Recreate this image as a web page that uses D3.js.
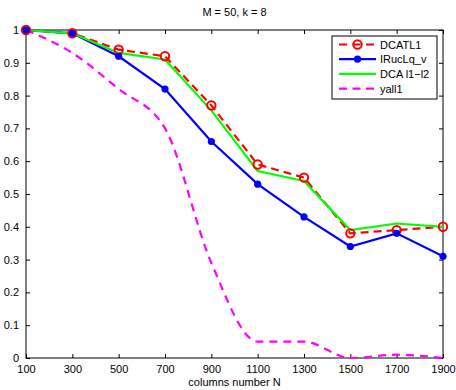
<!DOCTYPE html>
<html>
<head>
<meta charset="utf-8">
<script src="https://cdn.jsdelivr.net/npm/d3@7"></script>
<style>
  body { margin: 0; background: #fff; }
  svg text { font-family: "Liberation Sans", Arial, sans-serif; font-size: 11px; fill: #000; }
</style>
</head>
<body>
<div id="chart"></div>
<script>
// data
var columnsN = [100, 300, 500, 700, 900, 1100, 1300, 1500, 1700, 1900];
var dcatl1   = [1.00, 0.99, 0.94, 0.92, 0.77, 0.59, 0.55, 0.38, 0.39, 0.40];
var irucLq   = [1.00, 0.99, 0.92, 0.82, 0.66, 0.53, 0.43, 0.34, 0.38, 0.31];
var dcaL1L2  = [1.00, 0.99, 0.93, 0.91, 0.755, 0.57, 0.54, 0.39, 0.41, 0.40];
var yall1    = [1.00, 0.93, 0.82, 0.70, 0.29, 0.05, 0.05, 0.00, 0.01, 0.00];
var xTicks = [100, 300, 500, 700, 900, 1100, 1300, 1500, 1700, 1900];
var yTicks = [0, 0.1, 0.2, 0.3, 0.4, 0.5, 0.6, 0.7, 0.8, 0.9, 1];

var series = [
    {name: "DCATL1", values: dcatl1, color: "#ff0000", dash: "8,5", marker: "circle"},
    {name: "IRucLq_v", values: irucLq, color: "#0000ff", dash: null, marker: "dot"},
    {name: "DCA l1\u2212l2", values: dcaL1L2, color: "#00ff00", dash: null, marker: null},
    {name: "yall1", values: yall1, color: "#ff00ff", dash: "8,6", marker: null, smooth: true}
];

// set the dimensions and margins of the graph
var W = 456, H = 390;
var margin = {top: 30, right: 13, bottom: 32, left: 26},
    width = W - margin.left - margin.right,
    height = H - margin.top - margin.bottom;

var svg = d3.select("#chart")
  .append("svg")
    .attr("width", W)
    .attr("height", H);

var g = svg.append("g")
    .attr("transform", "translate(" + margin.left + "," + margin.top + ")");

var x = d3.scaleLinear().domain([100, 1900]).range([0, width]);
var y = d3.scaleLinear().domain([0, 1]).range([height, 0]);

// axes, matlab style: ticks inside on all four sides
function styleAxis(sel) {
    sel.select(".domain").remove();
    sel.selectAll(".tick line").attr("stroke", "#000");
}
g.append("g")
    .attr("transform", "translate(0," + height + ")")
    .call(d3.axisBottom(x).tickValues(xTicks).tickSizeInner(-4).tickSizeOuter(0).tickPadding(7).tickFormat(d3.format("d")))
    .call(styleAxis)
    .selectAll("text").attr("font-size", null);
g.append("g")
    .call(d3.axisTop(x).tickValues(xTicks).tickSizeInner(-4).tickSizeOuter(0).tickFormat(""))
    .call(styleAxis);
g.append("g")
    .call(d3.axisLeft(y).tickValues(yTicks).tickSizeInner(-4).tickSizeOuter(0).tickPadding(7).tickFormat(function(d){ return d3.format("")(+d.toFixed(1)); }))
    .call(styleAxis);
g.append("g")
    .attr("transform", "translate(" + width + ",0)")
    .call(d3.axisRight(y).tickValues(yTicks).tickSizeInner(-4).tickSizeOuter(0).tickFormat(""))
    .call(styleAxis);

// remove the default font settings d3 puts on axis groups
g.selectAll("g").attr("font-family", null).attr("font-size", null);

g.append("rect")
    .attr("width", width).attr("height", height)
    .attr("fill", "none").attr("stroke", "#000").attr("stroke-width", 1);

// lines
series.forEach(function(s) {
    var line = d3.line()
        .x(function(d, i) { return x(columnsN[i]); })
        .y(function(d) { return y(d); })
        .curve(s.smooth ? d3.curveMonotoneX : d3.curveLinear);
    g.append("path")
        .datum(s.values)
        .attr("d", line)
        .attr("fill", "none")
        .attr("stroke", s.color)
        .attr("stroke-width", 2.2)
        .attr("stroke-dasharray", s.dash);
});

// markers, blue dots drawn after red circles
series.forEach(function(s) {
    if (s.marker == "circle") {
        g.selectAll(null).data(s.values).enter().append("circle")
            .attr("cx", function(d, i) { return x(columnsN[i]); })
            .attr("cy", function(d) { return y(d); })
            .attr("r", 4.2)
            .attr("fill", "none")
            .attr("stroke", s.color)
            .attr("stroke-width", 2);
    }
});
series.forEach(function(s) {
    if (s.marker == "dot") {
        g.selectAll(null).data(s.values).enter().append("circle")
            .attr("cx", function(d, i) { return x(columnsN[i]); })
            .attr("cy", function(d) { return y(d); })
            .attr("r", 3.6)
            .attr("fill", s.color);
    }
});

// title and x label
svg.append("text")
    .attr("x", margin.left + width / 2).attr("y", 16)
    .attr("text-anchor", "middle")
    .text("M = 50, k = 8");
svg.append("text")
    .attr("x", margin.left + width / 2).attr("y", 386)
    .attr("text-anchor", "middle")
    .text("columns number N");

// legend
var lg = svg.append("g").attr("transform", "translate(332,36)");
lg.append("rect")
    .attr("width", 105).attr("height", 63)
    .attr("fill", "#fff").attr("stroke", "#000").attr("stroke-width", 1);
series.forEach(function(s, i) {
    var ly = 8.5 + i * 14.7;
    lg.append("line")
        .attr("x1", 7).attr("x2", 44).attr("y1", ly).attr("y2", ly)
        .attr("stroke", s.color).attr("stroke-width", 2.2)
        .attr("stroke-dasharray", s.dash ? "8,5.5" : null);
    if (s.marker == "circle") {
        lg.append("circle").attr("cx", 25.5).attr("cy", ly).attr("r", 4.2)
            .attr("fill", "none").attr("stroke", s.color).attr("stroke-width", 2);
    } else if (s.marker == "dot") {
        lg.append("circle").attr("cx", 25.5).attr("cy", ly).attr("r", 3.6).attr("fill", s.color);
    }
    lg.append("text")
        .attr("x", 48).attr("y", ly + 4)
        .text(s.name);
});
</script>
</body>
</html>
